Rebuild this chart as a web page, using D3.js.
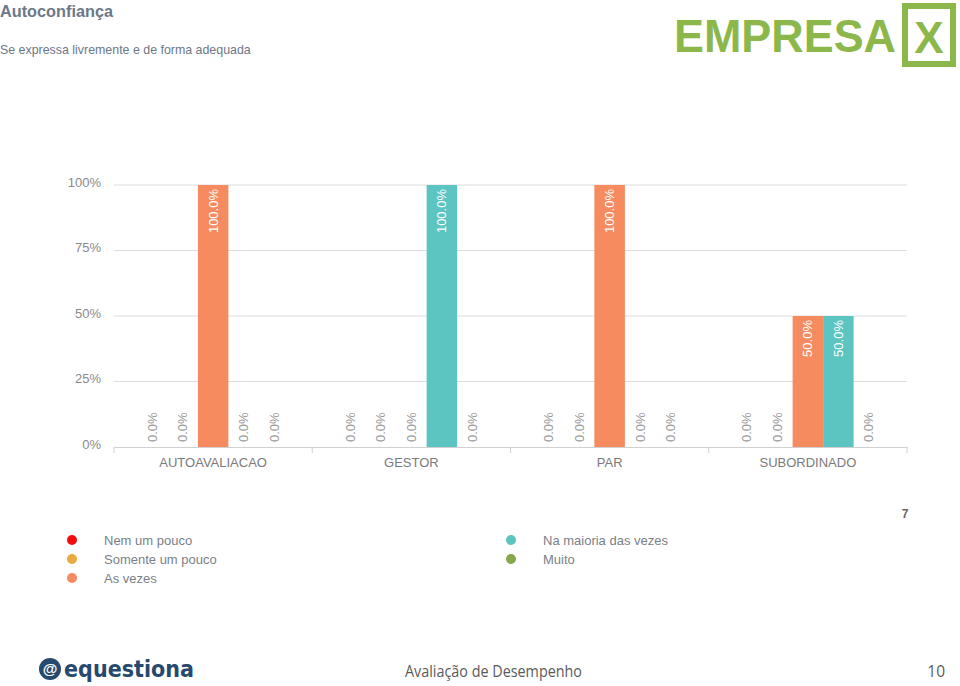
<!DOCTYPE html>
<html>
<head>
<meta charset="utf-8">
<script src="https://cdn.jsdelivr.net/npm/d3@7/dist/d3.min.js"></script>
<style>
  html, body { margin: 0; padding: 0; background: #fff; }
  svg { display: block; }
</style>
</head>
<body>
<svg id="chart" width="960" height="686"></svg>
<script>
const categories = ["AUTOAVALIACAO", "GESTOR", "PAR", "SUBORDINADO"];
const seriesNames = ["Nem um pouco", "Somente um pouco", "As vezes", "Na maioria das vezes", "Muito"];
const seriesColors = ["#f00d0d", "#e9a93e", "#f58b5f", "#5cc4c1", "#86a74a"];
const nemUmPouco = [0, 0, 0, 0];
const somenteUmPouco = [0, 0, 0, 0];
const asVezes = [100, 0, 100, 50];
const naMaioria = [0, 100, 0, 50];
const muito = [0, 0, 0, 0];
const seriesValues = [nemUmPouco, somenteUmPouco, asVezes, naMaioria, muito];
const yTicks = [0, 25, 50, 75, 100];

const svg = d3.select("#chart");
const font = "'Liberation Sans', Arial, sans-serif";

// Header
svg.append("text").attr("x", 0).attr("y", 17).text("Autoconfiança")
  .attr("font-family", font).attr("font-weight", "bold").attr("font-size", 16.3).attr("fill", "#6c7888");
svg.append("text").attr("x", 0).attr("y", 54).text("Se expressa livremente e de forma adequada")
  .attr("font-family", font).attr("font-size", 12.4).attr("fill", "#6c7888");

// EMPRESA X logo
const green = "#8cb84b";
svg.append("text").attr("x", 674).attr("y", 52).text("EMPRESA")
  .attr("font-family", font).attr("font-weight", "bold").attr("font-size", 47)
  .attr("textLength", 222).attr("lengthAdjust", "spacingAndGlyphs").attr("fill", green);
svg.append("rect").attr("x", 905).attr("y", 6).attr("width", 48).attr("height", 58)
  .attr("fill", "none").attr("stroke", green).attr("stroke-width", 6);
svg.append("text").attr("x", 929).attr("y", 53).attr("text-anchor", "middle").text("X")
  .attr("font-family", font).attr("font-weight", "bold").attr("font-size", 44).attr("fill", green);

// Scales
const x0 = d3.scaleBand().domain(categories).range([114, 907]).padding(0);
const x1 = d3.scaleBand().domain(seriesNames).range([0, x0.bandwidth()]).paddingInner(0).paddingOuter(0.75);
const y = d3.scaleLinear().domain([0, 100]).range([447, 185]);

// Gridlines
svg.append("g").selectAll("line").data(yTicks.filter(d => d > 0)).join("line")
  .attr("x1", 114).attr("x2", 907)
  .attr("y1", d => y(d)).attr("y2", d => y(d))
  .attr("stroke", "#dcdcdc").attr("stroke-width", 1);

// Y axis
const yAxis = svg.append("g").attr("transform", "translate(101,0)")
  .call(d3.axisLeft(y).tickValues(yTicks).tickSize(0).tickPadding(0).tickFormat(d => d + "%"));
yAxis.select(".domain").remove();
yAxis.selectAll("text").attr("font-family", font).attr("font-size", 13).attr("fill", "#8a8a8a").attr("dy", "0.1em");

// Bars
const flat = [];
categories.forEach((c, ci) => {
  seriesNames.forEach((s, si) => {
    flat.push({ cat: c, series: s, color: seriesColors[si], value: seriesValues[si][ci] });
  });
});

const groups = svg.append("g");
groups.selectAll("rect").data(flat.filter(d => d.value > 0)).join("rect")
  .attr("x", d => x0(d.cat) + x1(d.series))
  .attr("y", d => y(d.value))
  .attr("width", x1.bandwidth())
  .attr("height", d => y(0) - y(d.value))
  .attr("fill", d => d.color);

// Value labels
groups.selectAll("text").data(flat).join("text")
  .attr("transform", d => {
    const cx = x0(d.cat) + x1(d.series) + x1.bandwidth() / 2;
    const yy = d.value > 0 ? y(d.value) + 4 : y(0) - 5;
    return `translate(${cx},${yy}) rotate(-90)`;
  })
  .attr("text-anchor", d => d.value > 0 ? "end" : "start")
  .attr("dy", "0.35em")
  .attr("font-family", font).attr("font-size", 13)
  .attr("fill", d => d.value > 0 ? "#ffffff" : "#9a9a9a")
  .text(d => d.value.toFixed(1) + "%");

// X axis
const xAxis = svg.append("g").attr("transform", "translate(0,447)")
  .call(d3.axisBottom(x0).tickSize(0).tickPadding(11));
xAxis.select(".domain").attr("stroke", "#d0d0d0");
xAxis.selectAll("text").attr("font-family", font).attr("font-size", 13).attr("fill", "#7a7a7a");
const edges = categories.map(c => x0(c)).concat([x0.range()[1]]);
svg.append("g").selectAll("line").data(edges).join("line")
  .attr("x1", d => d).attr("x2", d => d).attr("y1", 447).attr("y2", 453)
  .attr("stroke", "#d0d0d0");

// "7"
svg.append("text").attr("x", 905).attr("y", 518).attr("text-anchor", "middle").text("7")
  .attr("font-family", font).attr("font-weight", "bold").attr("font-size", 12).attr("fill", "#666");

// Legend
const legendPos = [
  { x: 72, y: 540 }, { x: 72, y: 559 }, { x: 72, y: 578 },
  { x: 511, y: 540 }, { x: 511, y: 559 }
];
const lg = svg.append("g").selectAll("g").data(seriesNames).join("g")
  .attr("transform", (d, i) => `translate(${legendPos[i].x},${legendPos[i].y})`);
lg.append("circle").attr("r", 5).attr("fill", (d, i) => seriesColors[i]);
lg.append("text").attr("x", 32).attr("dy", "0.35em").text(d => d)
  .attr("font-family", font).attr("font-size", 13).attr("fill", "#7a7f88");

// Footer
const navy = "#27496d";
svg.append("circle").attr("cx", 50).attr("cy", 669).attr("r", 11).attr("fill", navy);
svg.append("text").attr("x", 50).attr("y", 674).attr("text-anchor", "middle").text("@")
  .attr("font-family", font).attr("font-weight", "bold").attr("font-size", 15).attr("fill", "#fff");
svg.append("text").attr("x", 64).attr("y", 677).text("equestiona")
  .attr("font-family", "'DejaVu Sans', sans-serif").attr("font-weight", "bold").attr("font-size", 23)
  .attr("textLength", 130).attr("lengthAdjust", "spacingAndGlyphs").attr("fill", navy);
svg.append("text").attr("x", 405).attr("y", 677).text("Avaliação de Desempenho")
  .attr("font-family", "'Open Sans', sans-serif").attr("font-size", 15.5)
  .attr("textLength", 177).attr("lengthAdjust", "spacingAndGlyphs").attr("fill", "#5a5a5a");
svg.append("text").attr("x", 945).attr("y", 677).attr("text-anchor", "end").text("10")
  .attr("font-family", "'Open Sans', sans-serif").attr("font-size", 15.5).attr("fill", "#5a5a5a");
</script>
</body>
</html>
